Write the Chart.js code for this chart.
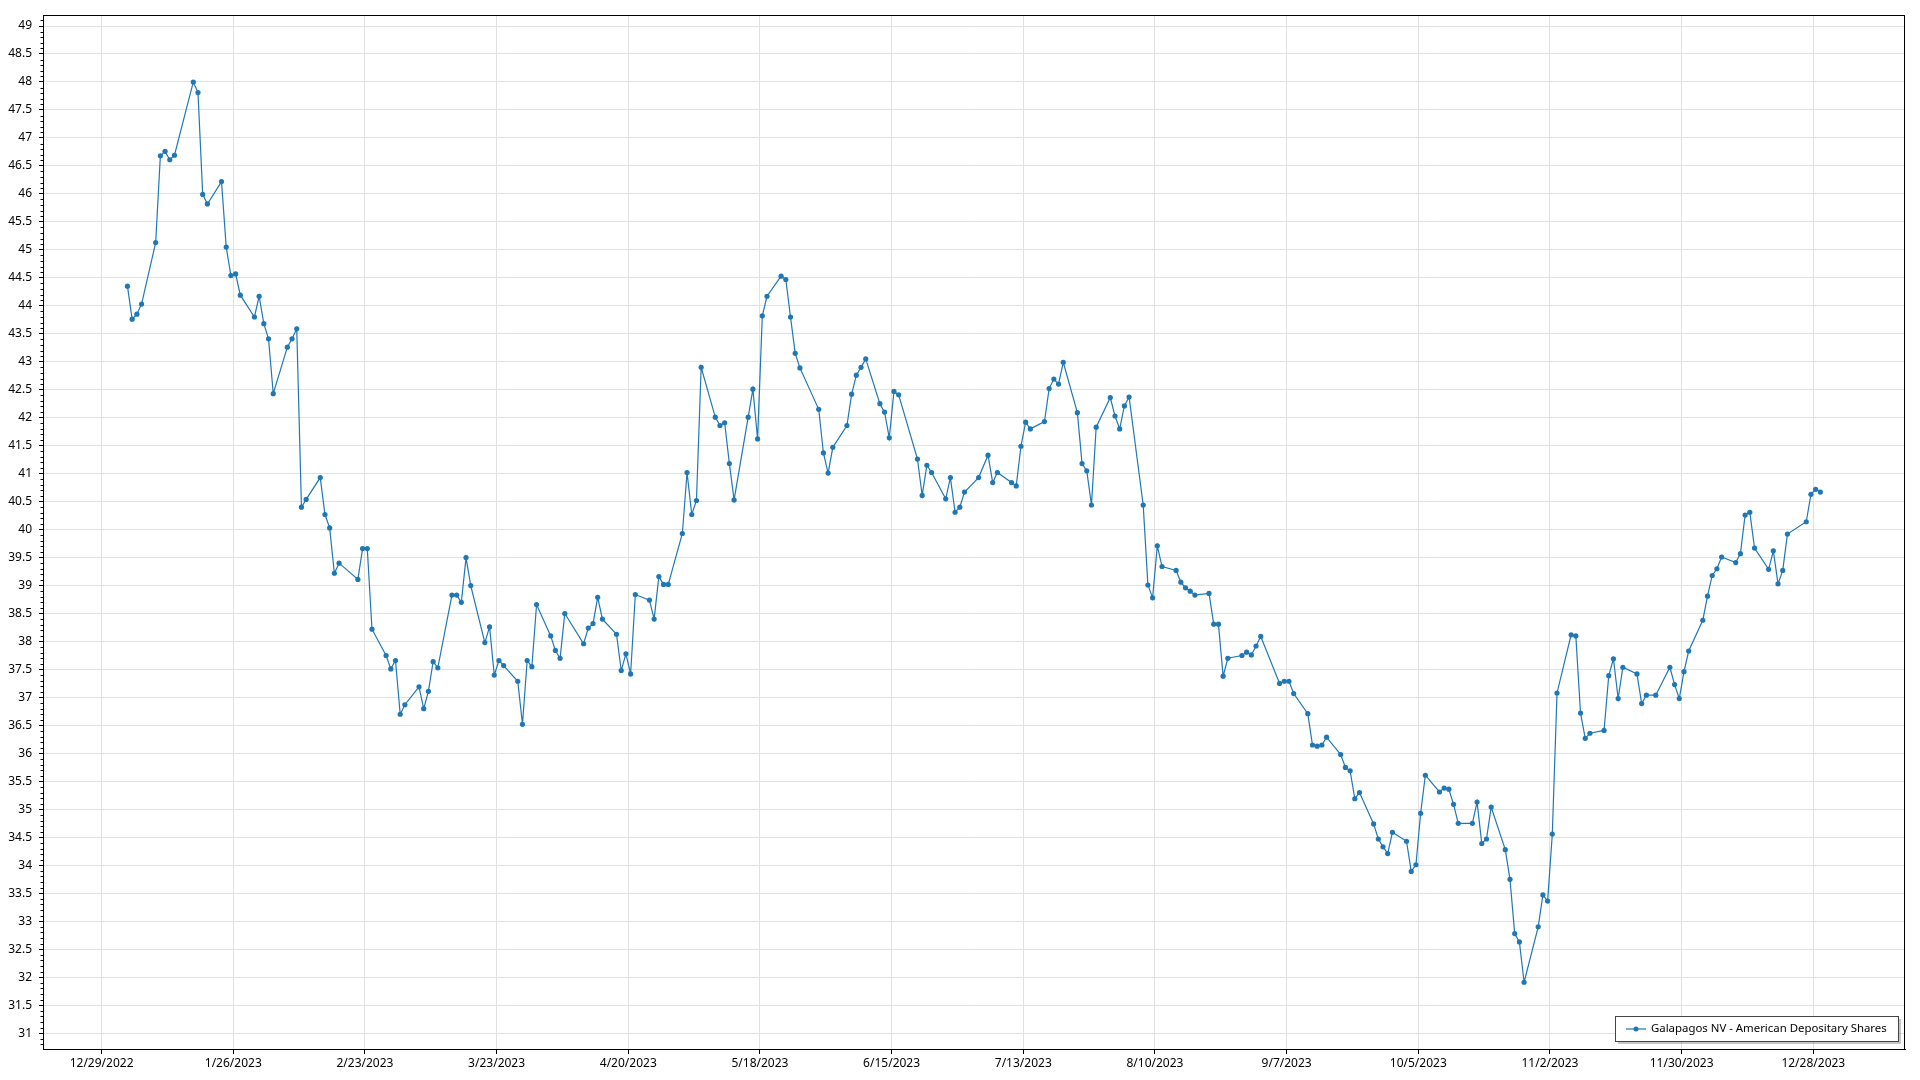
<!DOCTYPE html>
<html>
<head>
<meta charset="utf-8">
<title>Galapagos NV - American Depositary Shares</title>
<script src="https://cdn.jsdelivr.net/npm/chart.js@4.4.1/dist/chart.umd.min.js"></script>
<style>
  html, body { margin: 0; padding: 0; background: #fff; }
  canvas { display: block; }
</style>
</head>
<body>
<canvas id="priceChart" width="1920" height="1080"></canvas>
<script>
// --- DATA ---
const seriesName = 'Galapagos NV - American Depositary Shares';

// market closed on these weekdays (2023)
const marketHolidays = ['2023-01-02', '2023-01-16', '2023-02-20', '2023-04-07', '2023-05-29',
  '2023-06-19', '2023-07-04', '2023-09-04', '2023-11-23', '2023-12-25'];

// closing prices, one per trading day, Jan 3 -> Dec 29 2023
const closePrices = [
  44.35, 43.76, 43.85, 44.03,
  45.13, 46.68, 46.76, 46.61, 46.69,
  48.00, 47.81, 45.99, 45.82,
  46.22, 45.05, 44.54, 44.57, 44.19,
  43.80, 44.17, 43.68, 43.41, 42.43,
  43.26, 43.41, 43.59, 40.40, 40.54,
  40.93, 40.27, 40.03, 39.22, 39.40,
  39.11, 39.66, 39.66, 38.22,
  37.75, 37.51, 37.66, 36.70, 36.87,
  37.19, 36.80, 37.11, 37.64, 37.53,
  38.83, 38.83, 38.70, 39.50, 39.00,
  37.98, 38.26, 37.40, 37.66, 37.57,
  37.29, 36.52, 37.66, 37.55, 38.66,
  38.10, 37.84, 37.70, 38.50,
  37.96, 38.24, 38.32, 38.79, 38.40,
  38.13, 37.48, 37.78, 37.42, 38.84,
  38.74, 38.40, 39.16, 39.02, 39.02,
  39.93, 41.02, 40.27, 40.52, 42.90,
  42.01, 41.86, 41.91, 41.18, 40.53,
  42.01, 42.51, 41.62, 43.82, 44.17,
  44.53, 44.47, 43.80, 43.15, 42.89,
  42.15, 41.37, 41.01, 41.47,
  41.86, 42.42, 42.76, 42.90, 43.05,
  42.25, 42.10, 41.64, 42.47, 42.41,
  41.26, 40.61, 41.15, 41.02,
  40.55, 40.93, 40.31, 40.40, 40.67,
  40.93, 41.33, 40.84, 41.02,
  40.84, 40.78, 41.49, 41.92, 41.80,
  41.93, 42.52, 42.69, 42.60, 42.99,
  42.09, 41.18, 41.05, 40.44, 41.83,
  42.36, 42.03, 41.80, 42.21, 42.37,
  40.44, 39.01, 38.78, 39.71, 39.34,
  39.27, 39.06, 38.96, 38.90, 38.83,
  38.86, 38.31, 38.31, 37.38, 37.70,
  37.75, 37.81, 37.76, 37.92, 38.09,
  37.25, 37.29, 37.29, 37.07,
  36.71, 36.15, 36.13, 36.15, 36.29,
  35.98, 35.75, 35.69, 35.19, 35.30,
  34.74, 34.47, 34.33, 34.21, 34.59,
  34.43, 33.89, 34.01, 34.93, 35.61,
  35.31, 35.38, 35.36, 35.09, 34.75,
  34.75, 35.13, 34.39, 34.47, 35.04,
  34.28, 33.75, 32.78, 32.63, 31.91,
  32.90, 33.47, 33.36, 34.56, 37.08,
  38.12, 38.10, 36.72, 36.27, 36.36,
  36.41, 37.39, 37.69, 36.98, 37.54,
  37.42, 36.89, 37.04, 37.04,
  37.54, 37.23, 36.98, 37.46, 37.83,
  38.38, 38.81, 39.18, 39.30, 39.51,
  39.41, 39.57, 40.26, 40.31, 39.67,
  39.29, 39.62, 39.03, 39.27, 39.92,
  40.14, 40.63, 40.72, 40.67
];

// date axis labels (every 4 weeks)
const dateTicks = ['12/29/2022', '1/26/2023', '2/23/2023', '3/23/2023', '4/20/2023', '5/18/2023',
  '6/15/2023', '7/13/2023', '8/10/2023', '9/7/2023', '10/5/2023', '11/2/2023', '11/30/2023', '12/28/2023'];

// each price is stamped at midday of its trading day
const stampHour = 12;

// --- HELPERS ---
// day number counted from Jan 1 2023 (= 1); 12/29/2022 -> -2
function dayOf(m, d, y) {
  return Math.round((Date.UTC(y, m - 1, d) - Date.UTC(2023, 0, 0)) / 86400000);
}
function dayFromLabel(s) {
  const p = s.split('/').map(Number);
  return dayOf(p[0], p[1], p[2]);
}
function labelFromDay(n) {
  const dt = new Date(Date.UTC(2023, 0, Math.round(n)));
  return (dt.getUTCMonth() + 1) + '/' + dt.getUTCDate() + '/' + dt.getUTCFullYear();
}
const pad = v => String(v).padStart(2, '0');

// trading days of 2023 (weekdays minus holidays)
const tradingDays = [];
for (let n = 1; n <= 365; n++) {
  const dt = new Date(Date.UTC(2023, 0, n));
  const wd = dt.getUTCDay();
  const iso = dt.getUTCFullYear() + '-' + pad(dt.getUTCMonth() + 1) + '-' + pad(dt.getUTCDate());
  if (wd === 0 || wd === 6 || marketHolidays.includes(iso)) continue;
  tradingDays.push(n);
}

const points = closePrices.map((v, i) => ({ x: tradingDays[i] + stampHour / 24, y: v }));
const xTickValues = dateTicks.map(dayFromLabel);

// --- STYLE ---
const lineBlue = '#1f77b4';
const gridGray = '#e1e1e1';
const axisBlack = '#000000';
const fontFamily = '"Noto Sans", "Open Sans", sans-serif';
Chart.defaults.font.family = fontFamily;
Chart.defaults.font.size = 12;
Chart.defaults.color = '#000';

// minor ticks on the value axis + frame round the plot
const frameAndMinorTicks = {
  id: 'frameAndMinorTicks',
  afterDraw(chart) {
    const ctx = chart.ctx;
    const a = chart.chartArea;
    const y = chart.scales.y;
    ctx.save();
    ctx.strokeStyle = axisBlack;
    ctx.lineWidth = 1;
    ctx.beginPath();
    for (let k = Math.ceil(y.min * 10); k <= Math.floor(y.max * 10); k++) {
      if (k % 5 === 0) continue;
      const py = Math.round(y.getPixelForValue(k / 10)) + 0.5;
      ctx.moveTo(a.left - 2.5, py);
      ctx.lineTo(a.left, py);
    }
    ctx.stroke();
    ctx.strokeRect(Math.round(a.left) + 0.5, Math.round(a.top) + 0.5,
      Math.round(a.right - a.left) - 1, Math.round(a.bottom - a.top));
    ctx.restore();
  }
};

// legend box in the lower right corner of the plot
const cornerLegend = {
  id: 'cornerLegend',
  afterDraw(chart) {
    const ctx = chart.ctx;
    const a = chart.chartArea;
    ctx.save();
    ctx.font = '11.4px ' + fontFamily;
    const tw = ctx.measureText(seriesName).width;
    const w = Math.round(tw + 47), h = 25;
    const x = Math.round(a.right - 7 - w), y = Math.round(a.bottom - 8 - h);
    ctx.fillStyle = 'rgba(0,0,0,0.22)';
    ctx.fillRect(x + 3, y + 3, w, h);
    ctx.fillStyle = '#fff';
    ctx.fillRect(x, y, w, h);
    ctx.strokeStyle = '#444';
    ctx.lineWidth = 1;
    ctx.strokeRect(x + 0.5, y + 0.5, w, h);
    const cy = y + h / 2 + 0.5;
    ctx.strokeStyle = lineBlue;
    ctx.lineWidth = 1.2;
    ctx.beginPath();
    ctx.moveTo(x + 11, cy);
    ctx.lineTo(x + 31, cy);
    ctx.stroke();
    ctx.fillStyle = lineBlue;
    ctx.beginPath();
    ctx.arc(x + 21, cy, 2.5, 0, Math.PI * 2);
    ctx.fill();
    ctx.fillStyle = '#000';
    ctx.textBaseline = 'middle';
    ctx.fillText(seriesName, x + 36, cy);
    ctx.restore();
  }
};

// --- CHART ---
const priceCtx = document.getElementById('priceChart').getContext('2d');
new Chart(priceCtx, {
  type: 'line',
  data: {
    datasets: [{
      label: seriesName,
      data: points,
      borderColor: lineBlue,
      backgroundColor: lineBlue,
      borderWidth: 1.2,
      pointRadius: 2.6,
      pointBorderWidth: 0,
      pointBackgroundColor: lineBlue,
      tension: 0,
      fill: false
    }]
  },
  options: {
    responsive: false,
    animation: false,
    devicePixelRatio: 1,
    layout: { padding: { top: 15, right: 15, left: 0, bottom: 0 } },
    scales: {
      x: {
        type: 'linear',
        min: -14.46,
        max: 381.5,
        afterBuildTicks: s => { s.ticks = xTickValues.map(v => ({ value: v })); },
        afterFit: s => { s.height = 31; s.paddingLeft = 0; s.paddingRight = 0; },
        ticks: {
          autoSkip: false,
          maxRotation: 0,
          padding: 2,
          color: '#000',
          callback: v => labelFromDay(v)
        },
        grid: { color: gridGray, tickColor: axisBlack, tickLength: 5 },
        border: { color: axisBlack, width: 1 }
      },
      y: {
        min: 30.717,
        max: 49.197,
        afterFit: s => { s.width = 43; s.paddingTop = 0; s.paddingBottom = 0; },
        ticks: {
          stepSize: 0.5,
          includeBounds: false,
          autoSkip: false,
          padding: 7,
          color: '#000',
          callback: v => String(Math.round(v * 10) / 10)
        },
        grid: { color: gridGray, tickColor: axisBlack, tickLength: 4 },
        border: { color: axisBlack, width: 1 }
      }
    },
    plugins: {
      legend: { display: false },
      tooltip: { enabled: false }
    }
  },
  plugins: [frameAndMinorTicks, cornerLegend]
});
</script>
</body>
</html>
